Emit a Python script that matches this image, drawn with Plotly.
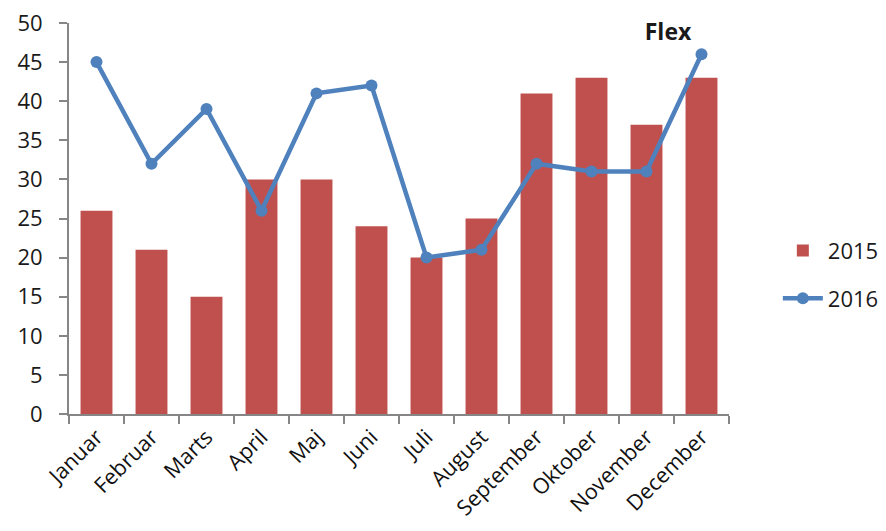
import plotly.graph_objects as go

months = ["Januar", "Februar", "Marts", "April", "Maj", "Juni", "Juli",
          "August", "September", "Oktober", "November", "December"]
values_2015 = [26, 21, 15, 30, 30, 24, 20, 25, 41, 43, 37, 43]
values_2016 = [45, 32, 39, 26, 41, 42, 20, 21, 32, 31, 31, 46]
y_ticks = [0, 5, 10, 15, 20, 25, 30, 35, 40, 45, 50]

FONT = "Open Sans"
W, H = 870, 515
fig = go.Figure()
fig.add_trace(go.Bar(x=months, y=values_2015, name="2015", legendgroup="a",
                     marker=dict(color="#C0504D", line=dict(width=0))))
fig.add_trace(go.Scatter(x=months, y=values_2016, name="2016", legendgroup="b",
                         mode="lines+markers",
                         line=dict(color="#4F81BD", width=4.5),
                         marker=dict(color="#4F81BD", size=12)))

fig.update_layout(
    width=W, height=H,
    margin=dict(l=61, r=149, t=15, b=109, autoexpand=False),
    plot_bgcolor="white", paper_bgcolor="white",
    bargap=0.42,
    font=dict(family=FONT, size=22, color="#1a1a1a"),
    title=dict(text="<b>Flex</b>", x=660/W, xanchor="center",
               y=1 - 24/H, yanchor="middle",
               font=dict(family=FONT, size=23, color="#1a1a1a")),
    legend=dict(x=1.074, y=0.356, xanchor="left", yanchor="middle",
                font=dict(family=FONT, size=22), traceorder="grouped",
                tracegroupgap=16, itemwidth=40, bgcolor="rgba(0,0,0,0)"),
    showlegend=True,
)
fig.update_xaxes(range=[-0.5, len(months) - 0.5],
                 showgrid=False, showline=True, linecolor="#868686", linewidth=2,
                 ticks="outside", ticklen=8, tickcolor="#868686", tickwidth=2,
                 tickangle=-45, tickson="boundaries",
                 tickfont=dict(family=FONT, size=21.5, color="#111111"))
fig.update_yaxes(range=[0, 50], tickvals=y_ticks, showgrid=False, zeroline=False,
                 showline=True, linecolor="#868686", linewidth=2,
                 ticks="outside", ticklen=8, tickcolor="#868686", tickwidth=2,
                 ticklabelstandoff=12, ticklabeloverflow="allow",
                 tickfont=dict(family=FONT, size=22, color="#1a1a1a"))

fig.write_html("out.html")
